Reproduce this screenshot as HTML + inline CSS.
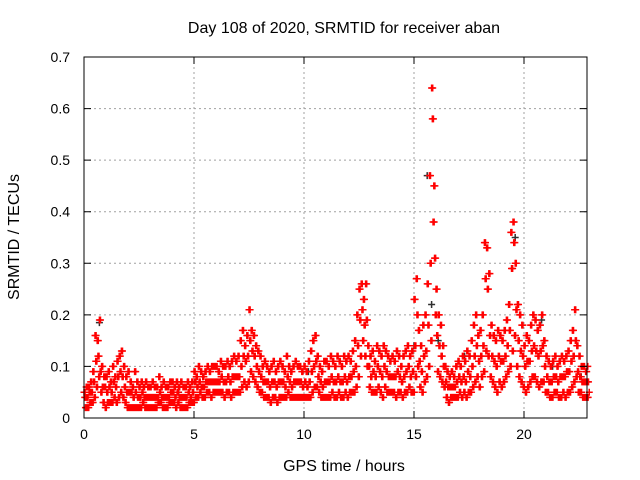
<!DOCTYPE html>
<html><head><meta charset="utf-8"><style>
html,body{margin:0;padding:0;background:#fff;}
svg{display:block;font-family:"Liberation Sans",Arial,sans-serif;}
</style></head><body>
<svg id="chart" width="640" height="480" viewBox="0 0 640 480">
<text x="344" y="33" font-size="16" text-anchor="middle" fill="#000">Day 108 of 2020, SRMTID for receiver aban</text>
<text transform="translate(19,237) rotate(-90)" font-size="16" text-anchor="middle" fill="#000">SRMTID / TECUs</text>
<text x="344" y="471" font-size="16" text-anchor="middle" fill="#000">GPS time / hours</text>
<g id="grid"></g>
<g id="marks"></g>
<g id="axes"></g>
</svg>
<script>
const xTicks=[0,5,10,15,20];
const yTicks=[0,0.1,0.2,0.3,0.4,0.5,0.6,0.7];
const yTickLabels=["0","0.1","0.2","0.3","0.4","0.5","0.6","0.7"];
const timeStep=0.1;
const hiVals=[.05,.06,.06,.07,.09,.16,.15,.19,.10,.08,
.08,.09,.07,.10,.08,.11,.12,.13,.10,.08,
.09,.07,.06,.09,.07,.06,.07,.06,.07,.06,
.06,.07,.06,.06,.08,.06,.07,.06,.06,.07,
.07,.06,.07,.06,.07,.06,.06,.07,.06,.07,
.09,.08,.10,.09,.08,.09,.10,.09,.10,.10,
.10,.09,.11,.10,.10,.11,.10,.11,.12,.11,
.12,.15,.17,.14,.16,.21,.17,.16,.14,.13,
.12,.10,.11,.10,.09,.10,.11,.09,.10,.11,
.10,.09,.12,.10,.09,.10,.11,.10,.10,.09,
.10,.09,.11,.13,.15,.16,.12,.10,.09,.11,
.11,.10,.12,.11,.10,.12,.11,.10,.12,.11,
.12,.11,.13,.15,.20,.25,.26,.23,.26,.14,
.12,.13,.11,.14,.13,.12,.14,.13,.12,.11,
.12,.11,.13,.12,.10,.12,.13,.14,.12,.13,
.23,.27,.17,.14,.18,.20,.26,.47,.64,.45,
.25,.20,.18,.14,.10,.09,.08,.09,.08,.10,
.11,.10,.12,.11,.13,.12,.15,.18,.20,.16,
.17,.20,.34,.33,.28,.18,.16,.15,.17,.16,
.15,.17,.19,.22,.36,.38,.30,.22,.20,.18,
.14,.16,.15,.18,.20,.19,.17,.18,.20,.15,
.12,.11,.10,.11,.12,.10,.11,.12,.11,.12,
.13,.15,.17,.21,.14,.12,.10,.10,.09,.10];
const midVals=[.04,.04,.05,.05,.07,.11,.12,.09,.06,.06,
.05,.06,.05,.07,.06,.08,.09,.08,.06,.05,
.05,.05,.04,.05,.04,.04,.05,.04,.04,.04,
.04,.04,.04,.04,.05,.04,.04,.04,.04,.05,
.05,.04,.05,.04,.04,.04,.04,.05,.04,.05,
.07,.06,.07,.06,.06,.07,.07,.07,.07,.07,
.07,.07,.08,.07,.07,.08,.07,.08,.08,.08,
.08,.10,.12,.11,.12,.15,.13,.12,.10,.09,
.08,.07,.07,.07,.06,.07,.07,.06,.07,.07,
.07,.06,.08,.07,.06,.07,.07,.07,.07,.06,
.07,.06,.07,.09,.10,.11,.08,.07,.06,.07,
.07,.07,.08,.07,.07,.08,.07,.07,.08,.07,
.08,.08,.09,.10,.14,.19,.21,.18,.19,.10,
.08,.09,.08,.10,.09,.08,.10,.09,.08,.08,
.08,.08,.09,.08,.07,.08,.09,.10,.08,.09,
.14,.20,.11,.09,.12,.13,.18,.30,.58,.31,
.16,.14,.12,.10,.07,.06,.06,.06,.06,.07,
.08,.07,.08,.07,.09,.08,.10,.12,.14,.11,
.12,.14,.27,.25,.16,.12,.11,.10,.12,.11,
.11,.12,.14,.17,.29,.34,.21,.15,.13,.12,
.10,.11,.11,.13,.14,.13,.12,.13,.14,.10,
.08,.07,.07,.08,.08,.07,.08,.08,.08,.09,
.09,.11,.12,.15,.09,.08,.07,.07,.07,.07];
const loVals=[.02,.02,.03,.03,.04,.06,.08,.05,.03,.02,
.03,.03,.03,.04,.03,.04,.05,.04,.03,.02,
.02,.02,.02,.02,.02,.02,.03,.02,.02,.02,
.02,.02,.02,.03,.03,.02,.02,.02,.03,.03,
.03,.02,.03,.02,.02,.02,.02,.03,.03,.03,
.04,.04,.05,.04,.04,.05,.05,.04,.05,.05,
.05,.05,.05,.04,.05,.05,.04,.05,.05,.05,
.05,.06,.07,.06,.07,.09,.08,.07,.06,.05,
.05,.04,.04,.04,.03,.04,.04,.03,.04,.04,
.04,.04,.05,.04,.04,.04,.04,.04,.04,.04,
.04,.04,.04,.05,.06,.06,.05,.04,.04,.04,
.04,.04,.05,.04,.04,.05,.04,.04,.05,.04,
.05,.05,.05,.06,.08,.12,.15,.12,.10,.06,
.05,.05,.05,.06,.05,.04,.06,.05,.05,.05,
.05,.04,.05,.05,.04,.05,.05,.06,.05,.05,
.08,.10,.06,.05,.07,.08,.10,.15,.38,.20,
.09,.08,.07,.06,.04,.03,.04,.04,.04,.04,
.05,.04,.05,.04,.05,.05,.06,.07,.08,.06,
.08,.09,.13,.12,.08,.07,.06,.05,.07,.06,
.07,.08,.09,.10,.13,.16,.10,.08,.07,.06,
.05,.06,.07,.08,.08,.07,.06,.07,.07,.05,
.05,.04,.04,.05,.05,.04,.04,.05,.04,.05,
.05,.06,.07,.08,.05,.05,.04,.04,.04,.05];
const darkTimes=[0.7,4.3,5.4,10.2,15.0,15.6,15.8,16.1,17.3,19.6,20.8,21.3,22.6];
const darkVals=[0.185,0.05,0.08,0.09,0.14,0.47,0.22,0.15,0.12,0.35,0.19,0.10,0.08];

const L=84,R=587,T=57,B=418;
const X=t=>L+t*22.0;
const Y=v=>B-v*(B-T)/0.7;
const NS='http://www.w3.org/2000/svg';
const grid=document.getElementById('grid'),marks=document.getElementById('marks'),axes=document.getElementById('axes');
function mk(tag,attrs,parent){const e=document.createElementNS(NS,tag);for(const k in attrs)e.setAttribute(k,attrs[k]);parent.appendChild(e);return e;}
xTicks.forEach((t,i)=>{
  if(t>0){const g=mk('line',{x1:X(t),x2:X(t),y1:T,y2:B,stroke:'#a0a0a0','stroke-dasharray':'2,3'},grid);
  
  }
  const tk=mk('path',{d:`M${X(t)},${B}v-7M${X(t)},${T}v7`,stroke:'#000'},axes);
  
  
  const lb=mk('text',{x:X(t),y:B+21,'font-size':14,'text-anchor':'middle',fill:'#000'},axes);
  lb.textContent=String(t);
  
  
});
yTicks.forEach((v,i)=>{
  if(v>0&&v<0.7){const g=mk('line',{x1:L,x2:R,y1:Y(v),y2:Y(v),stroke:'#a0a0a0','stroke-dasharray':'2,3'},grid);
  
  }
  const tk=mk('path',{d:`M${L},${Y(v)}h7M${R},${Y(v)}h-7`,stroke:'#000'},axes);
  
  
  const lb=mk('text',{x:L-14,y:Y(v)+5,'font-size':14,'text-anchor':'end',fill:'#000'},axes);
  lb.textContent=yTickLabels[i];
  
  
});
const border=mk('rect',{x:L,y:T,width:R-L,height:B-T,fill:'none',stroke:'#000'},axes);


function plus(t,v,col){
  const x=X(t),y=Y(v);
  const p=mk('path',{d:`M${x-3.5},${y}h7M${x},${y-3.5}v7`,stroke:col,'stroke-width':1.5},marks);
  
  
}
darkTimes.forEach((t,i)=>plus(t,darkVals[i],'#303030'));
const offsets=[0.066,0.033,0];
[loVals,midVals,hiVals].forEach((arr,k)=>arr.forEach((v,i)=>{
  plus(i*timeStep+offsets[k],v,'#ff0000');
  if(i+1<arr.length) plus(i*timeStep+offsets[k]+0.05,v,'#ff0000');
}));
</script>
</body></html>
